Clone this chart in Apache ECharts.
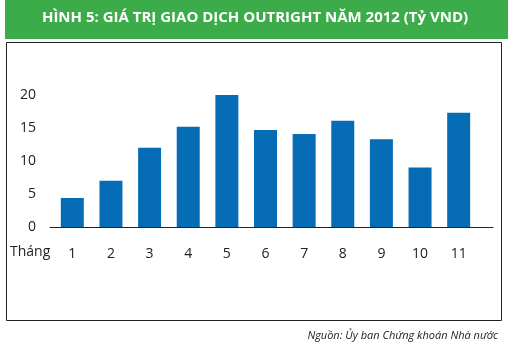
<!DOCTYPE html>
<html>
<head>
<meta charset="utf-8">
<script src="https://cdn.jsdelivr.net/npm/echarts@6/dist/echarts.min.js"></script>
<style>
  html, body { margin: 0; padding: 0; background: #fff; }
  #chart { width: 510px; height: 353px; }
</style>
</head>
<body>
<div id="chart"></div>
<script>
// data
var months = ["1", "2", "3", "4", "5", "6", "7", "8", "9", "10", "11"];
var values = [4.4, 7.0, 12.0, 15.2, 20.5, 14.7, 14.1, 16.1, 13.3, 9.0, 17.3];
var yTicks = [0, 5, 10, 15, 20];

var chart = echarts.init(document.getElementById("chart"));
var font = "'Open Sans', 'Noto Sans', sans-serif";

var option = {
    animation: false,
    graphic: [
        // green title bar
        { type: "rect", left: 5, top: 0, shape: { width: 503, height: 39 }, style: { fill: "#3cac4a" } },
        { type: "text", left: "center", top: 10,
          style: { text: "HÌNH 5: GIÁ TRỊ GIAO DỊCH OUTRIGHT NĂM 2012 (Tỷ VND)", fill: "#fff",
                   font: "bold 15px " + font } },
        // frame
        { type: "rect", left: 4, top: 40, shape: { width: 495, height: 278 },
          style: { fill: "none", stroke: "#222", lineWidth: 1 } },
        { type: "text", left: 10, top: 245, style: { text: "Tháng", fill: "#222", font: "14px " + font } },
        { type: "text", right: 12, top: 330,
          style: { text: "Nguồn: Ủy ban Chứng khoán Nhà nước", fill: "#222", font: "italic 11px " + font } }
    ],
    grid: [
        { left: 53, top: 95, width: 425, height: 132 },
        { left: 50, top: 95, width: 443, height: 132 }
    ],
    xAxis: [
        { type: "category", data: months, gridIndex: 0,
          axisLine: { show: false }, axisTick: { show: false },
          axisLabel: { color: "#222", fontSize: 14, fontFamily: font, margin: 20 } },
        { type: "value", gridIndex: 1, min: 0, max: 1,
          axisLine: { show: true, lineStyle: { color: "#222", width: 1 } },
          axisTick: { show: false }, axisLabel: { show: false }, splitLine: { show: false } }
    ],
    yAxis: [
        { type: "value", gridIndex: 0, min: yTicks[0], max: yTicks[yTicks.length - 1], interval: 5,
          axisLine: { show: false }, axisTick: { show: false }, splitLine: { show: false },
          axisLabel: { color: "#222", fontSize: 14, fontFamily: font, margin: 17 } },
        { type: "value", gridIndex: 1, show: false, min: 0, max: 1 }
    ],
    series: [
        { type: "bar", data: values, xAxisIndex: 0, yAxisIndex: 0,
          barWidth: 23, itemStyle: { color: "#066cb5" } }
    ]
};
chart.setOption(option);
</script>
</body>
</html>
